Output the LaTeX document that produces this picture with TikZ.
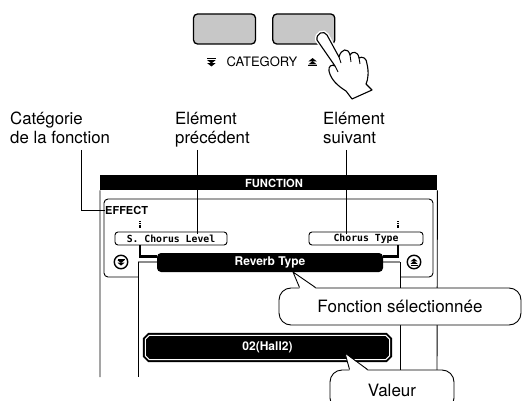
\documentclass[tikz,border=0pt]{standalone}
\usepackage{fontspec}
\setmainfont{TeX Gyre Heros}
\newfontfamily\lcdmono{DejaVu Sans Mono}
\usetikzlibrary{positioning,backgrounds}

\begin{document}
\begin{tikzpicture}[
       x=1pt, y=-1pt,
   label/.style={align=left, inner sep=0pt, anchor=base west,
                 font=\fontsize{16.8}{19}\selectfont},
  leader/.style={line width=0.8pt},
  button/.style={draw, line width=1.3pt, fill=black!22, rounded corners=4pt,
                 minimum width=62pt, minimum height=30pt, inner sep=0pt},
 itembox/.style={draw, line width=0.9pt, rounded corners=3pt, fill=white,
                 minimum height=13pt, inner sep=0pt,
                 font=\lcdmono\bfseries\fontsize{9.8}{10}\selectfont},
     bar/.style={fill=black, text=white, inner sep=0pt,
                 font=\bfseries\fontsize{12}{12}\selectfont},
  bubble/.style={draw, line width=0.9pt, fill=white, rounded corners=12pt,
                 inner sep=0pt, font=\fontsize{17}{17}\selectfont},
   value/.style={minimum width=244pt, minimum height=24pt, inner sep=0pt,
                 text=white, font=\bfseries\fontsize{12}{12}\selectfont},
    tick/.style={line width=2.6pt, dash pattern=on 1.1pt off 0.7pt},
   elbow/.style={line width=2.6pt},
     key/.style={draw, circle, line width=1.4pt, minimum size=13.5pt,
                 inner sep=0pt},
 dbldown/.pic={
   \fill (-3.5,-3.5) rectangle (3.5,-2.6);
   \fill (-3.5,-1.8) -- (3.5,-1.8) -- (0,1) -- cycle;
   \fill (-3.5,0.7) -- (3.5,0.7) -- (0,3.5) -- cycle;},
  ]
\useasboundingbox (0,0) rectangle (522,401);

% panel buttons
\node [button] (catdown) at (224.5,29) {};
\node [button, right=16pt of catdown] (catup) {};
\node [inner sep=0pt, anchor=base, font=\fontsize{13}{13}\selectfont]
  (catname) at (262,67) {CATEGORY};
\pic[scale=1.2] at ([xshift=-15pt]catname.west) {dbldown};
\pic[scale=1.2, yscale=-1] at ([xshift=15pt]catname.east) {dbldown};

% hand pressing the up button
\draw[line width=1.1pt, fill=white, line join=round,
      preaction={draw=white, line width=4pt}]
  (317,40) .. controls (316,33) and (324,30) .. (327,35)
  -- (339,57) .. controls (341,49) and (348,47) .. (350,55)
  .. controls (352,51) and (358,51) .. (359,58)
  .. controls (362,56) and (367,58) .. (367,64)
  .. controls (369,72) and (368,80) .. (366,84)
  -- (372,90) -- (352,99) -- (346,91)
  .. controls (338,86) and (331,80) .. (329,71)
  .. controls (328,66) and (332,64) .. (335,66) -- cycle;
\draw[line width=0.9pt] (339,57) -- (341,63) (350,55) -- (351,62)
  (359,58) -- (360,64) (335,66) -- (338,72);

% labels
\node [label] (catlbl) at (10,143) {Catégorie\\de la fonction};
\node [label] (prevlbl) at (175,143) {Elément\\précédent};
\node [label] (nextlbl) at (323,143) {Elément\\suivant};

% display
\node [bar, anchor=north west, minimum width=337pt, minimum height=15pt]
  (title) at (100,175) {};
\node [text=white, inner sep=0pt, font=\bfseries\fontsize{11.2}{11}\selectfont]
  (titletext) at (274,183) {FUNCTION};
\draw[line width=0.9pt] (title.south west) -- (100,377)
  (title.south east) -- (437,377);
\draw[line width=0.9pt, rounded corners=4pt]
  (138,277) -- (104,277) -- (104,199) -- (433,199) -- (433,277) -- (400,277);
\draw[black!45, line width=1.2pt] (138,262) -- (400,262);
\draw[line width=0.9pt] (138,262) -- (138,377) (400,262) -- (400,377);

\node [inner sep=0pt, anchor=west, font=\bfseries\fontsize{11}{11}\selectfont]
  (effect) at (105,210) {EFFECT};
\node [itembox, minimum width=112pt] (prev) at (171,238.5) {S. Chorus Level};
\node [itembox, minimum width=114pt] (next) at (366,238.5) {Chorus Type};
\draw[tick] (140,221) -- (140,228);
\draw[tick] (398,221) -- (398,228);

\node [bar, rounded corners=4pt, minimum width=226pt, minimum height=19pt]
  (func) at (270,262.5) {Reverb Type};
\draw[elbow] ([xshift=-31pt]prev.south) |- ([yshift=6pt]func.west);
\draw[elbow] ([xshift=32pt]next.south) |- ([yshift=6pt]func.east);

\node [key] (prevkey) at (121,262) {};
\pic[scale=1.0] at (prevkey) {dbldown};
\node [key] (nextkey) at (414,262) {};
\pic[scale=1.0, yscale=-1] at (nextkey) {dbldown};

% value field with cut corners
\node [value] (val) at (267.5,347.5) {02(Hall2)};
\begin{scope}[on background layer]
  \path[fill=black, draw=white, line width=1pt,
        preaction={draw=black, line width=5pt}]
    ([xshift=4pt]val.north west) -- ([xshift=-4pt]val.north east)
    -- ([yshift=-4pt]val.north east) -- ([yshift=4pt]val.south east)
    -- ([xshift=-4pt]val.south east) -- ([xshift=4pt]val.south west)
    -- ([yshift=4pt]val.south west) -- ([yshift=-4pt]val.north west) -- cycle;
\end{scope}

% leader lines
\coordinate (catpin) at (81,150);
\coordinate (prevpin) at (197,150);
\coordinate (nextpin) at (346,150);
\draw[leader] (catpin) |- (effect.west);
\draw[leader] (prevpin) -- ([yshift=-2pt]prevpin |- prev.north);
\draw[leader] (nextpin) -- ([yshift=-2pt]nextpin |- next.north);

% callouts
\node [bubble, minimum width=242pt, minimum height=37pt]
  (selbub) at (400,306.5) {Fonction sélectionnée};
\coordinate (seltip) at (293,272);
\fill[white] ([xshift=21pt, yshift=-1.2pt]selbub.north west) -- (seltip)
  -- ([xshift=37pt, yshift=-1.2pt]selbub.north west) -- cycle;
\draw[line width=0.9pt] ([xshift=21pt]selbub.north west) -- (seltip)
  -- ([xshift=37pt]selbub.north west);

\node [bubble, minimum width=124pt, minimum height=40pt]
  (valbub) at (392,390) {Valeur};
\coordinate (valtip) at (345,353);
\fill[white] ([xshift=20pt, yshift=-1.2pt]valbub.north west) -- (valtip)
  -- ([xshift=38pt, yshift=-1.2pt]valbub.north west) -- cycle;
\draw[line width=0.9pt] ([xshift=20pt]valbub.north west) -- (valtip)
  -- ([xshift=38pt]valbub.north west);
\end{tikzpicture}
\end{document}
